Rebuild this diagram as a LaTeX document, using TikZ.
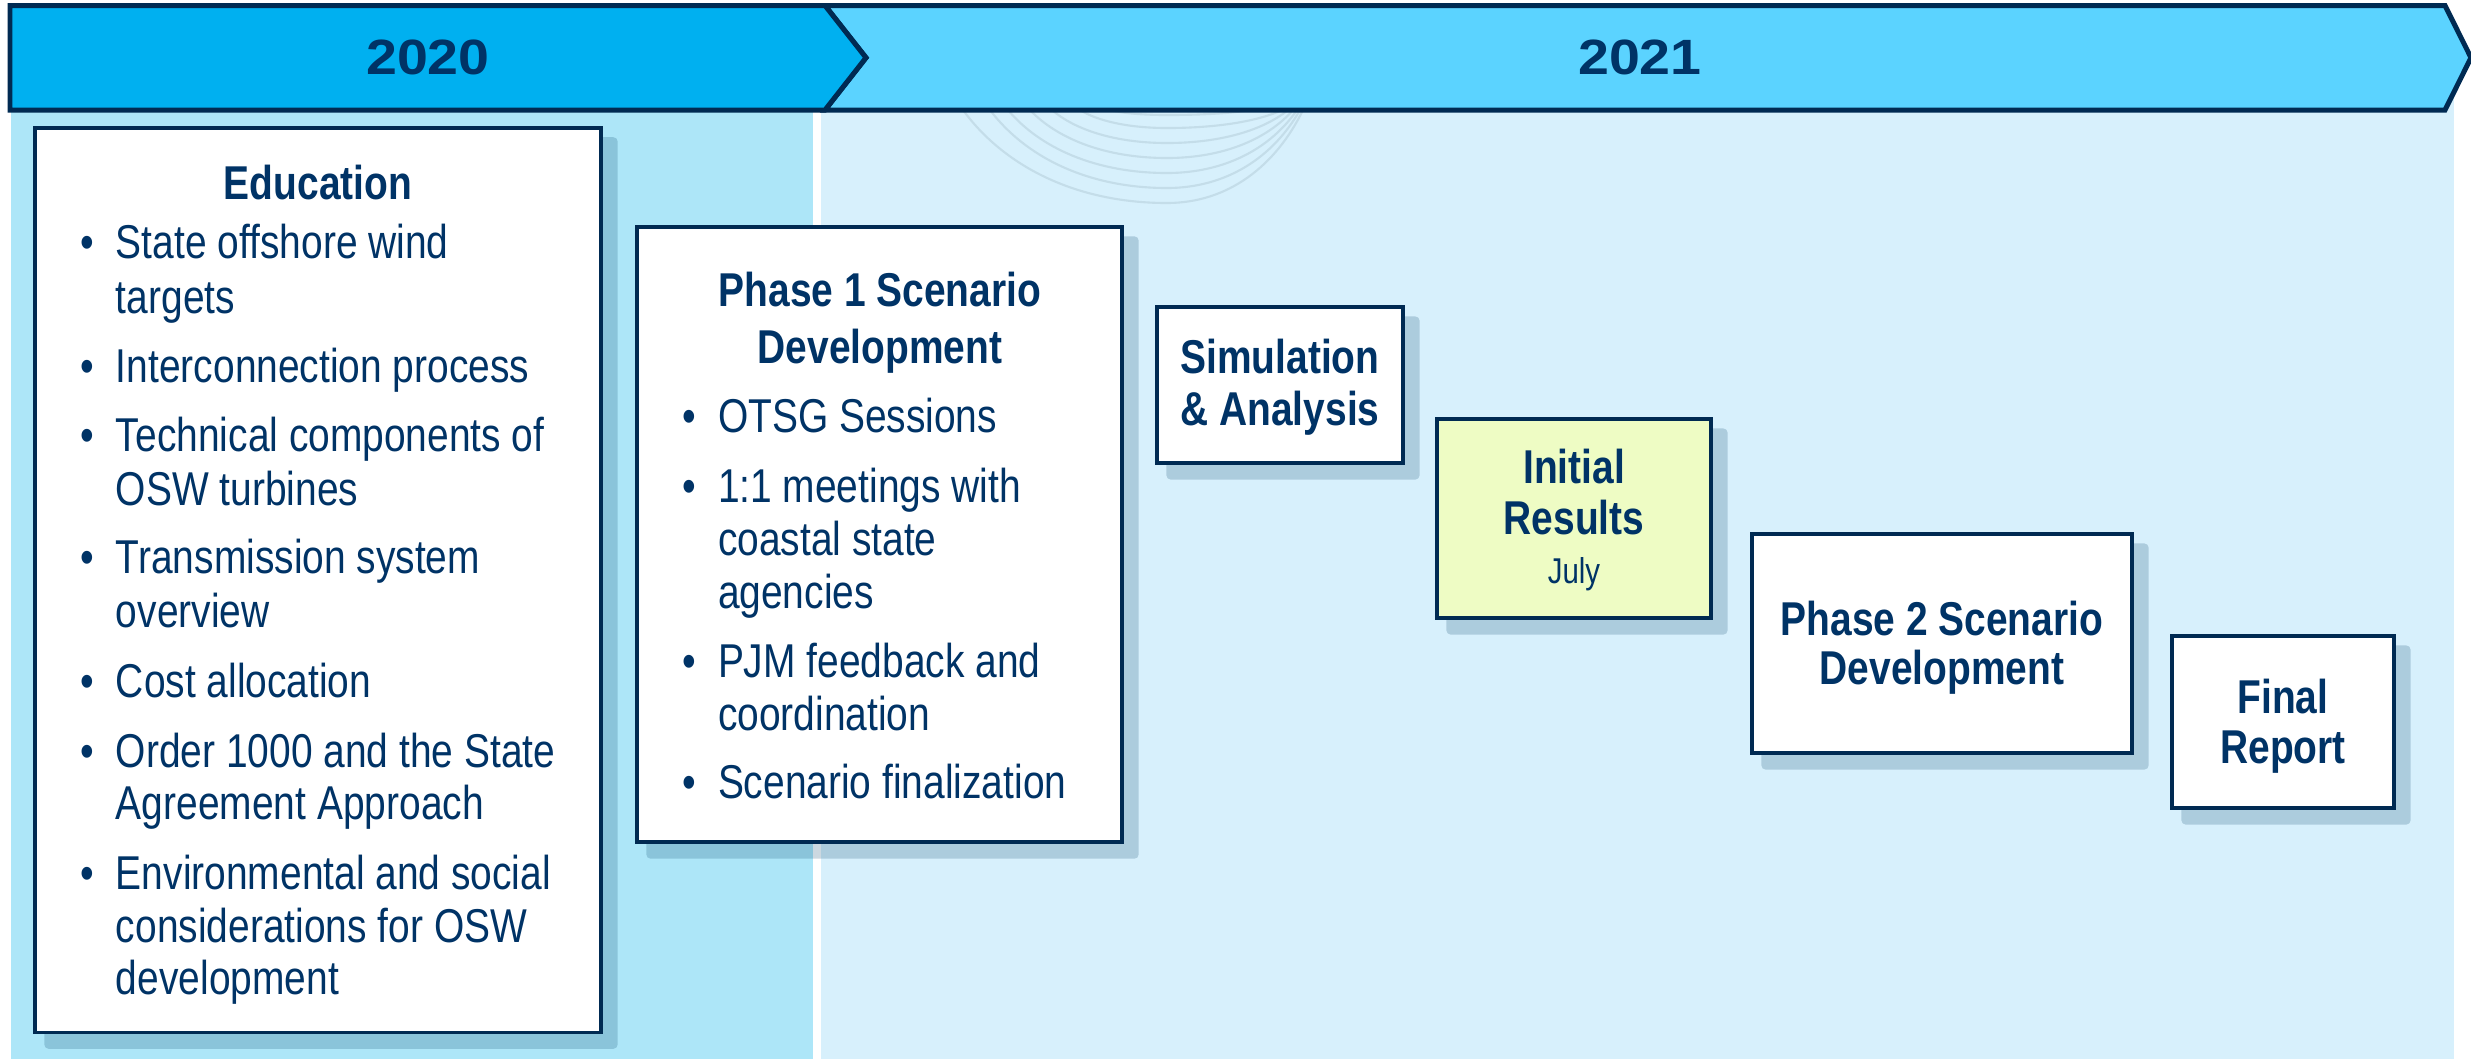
\documentclass[tikz,border=0pt]{standalone}
\usepackage{fontspec}
\setmainfont{Liberation Sans}[FakeStretch=0.82]
\newfontfamily\hdrfont{Liberation Sans}[FakeStretch=1.12]
\pgfdeclarelayer{bgl}
\pgfdeclarelayer{shl}
\pgfsetlayers{bgl,shl,main}
\definecolor{navy}{HTML}{003366}
\definecolor{edge}{HTML}{002A52}
\definecolor{bandA}{HTML}{00B0F0}
\definecolor{bandB}{HTML}{5BD3FF}
\definecolor{bgleft}{HTML}{ADE6F8}
\definecolor{bgright}{HTML}{D7F0FC}
\definecolor{yel}{HTML}{EEFCC4}
\definecolor{shcol}{RGB}{0,60,100}
\definecolor{arccol}{HTML}{C4DDE9}
\newcommand\bodyfont{\fontsize{13.5pt}{15pt}\selectfont}
\newcommand\smallfont{\fontsize{10.2pt}{12pt}\selectfont}
\newcommand\yearfont{\hdrfont\bfseries\fontsize{14.1pt}{16pt}\selectfont}
\tikzset{
  box/.style={draw=edge, line width=1pt, fill=white, inner sep=0pt},
  shad/.style={fill=shcol, fill opacity=0.2, rounded corners=1.2pt},
  txt/.style={inner sep=0pt, outer sep=0pt, text=navy, font=\bodyfont},
  ttl/.style={txt, font=\bodyfont\bfseries, anchor=base},
  itm/.style={txt, anchor=base west},
  bul/.style={txt, anchor=base},
  band/.style={draw=edge, line width=1.42pt, line join=miter},
  yr/.style={inner sep=0pt, text=navy, font=\yearfont},
}
\newcommand\dropshadow[1]{\begin{pgfonlayer}{shl}\fill[shad] ([shift={(11.25,11.25)}]#1.north west) rectangle ([shift={(14.75,14.75)}]#1.south east);\end{pgfonlayer}}
\begin{document}
\begin{tikzpicture}[x=0.01cm,y=-0.01cm]
\useasboundingbox (0,0) rectangle (2471,1059);
\begin{pgfonlayer}{bgl}
\fill[white] (0,0) rectangle (2471,1059);
\fill[bgleft] (11,60) rectangle (813,1059);
\fill[bgright] (821,60) rectangle (2454,1059);
\foreach \xs/\yb/\xe in {963/203/1303, 990/188/1300, 1008/173/1297, 1030/158/1293, 1052/143/1288, 1080/128/1282, 1110/115/1250}{
  \draw[arccol, line width=0.6pt]
    (\xs,110) .. controls ({\xs+0.2*(1167-\xs)},{110+0.6*(\yb-110)}) and ({1167-0.45*(1167-\xs)},\yb) .. (1167,\yb)
    .. controls ({1167+0.45*(\xe-1167)},\yb) and ({\xe-0.2*(\xe-1167)},{110+0.6*(\yb-110)}) .. (\xe,110);
}
\end{pgfonlayer}

% header bands
\draw[band, fill=bandB] (825,5.5) -- (2445,5.5) -- (2471,57.7) -- (2445,110) -- (825,110) -- (866,57.7) -- cycle;
\draw[band, fill=bandA] (10,5.5) -- (825,5.5) -- (866,57.7) -- (825,110) -- (10,110) -- cycle;
\node[yr] (y2020) at (428,57.7) {2020};
\node[yr] (y2021) at (1640,57.7) {2021};

% boxes
\node[box, minimum width=5.66cm, minimum height=9.04cm] (edu) at (318,580) {};
\node[box, minimum width=4.85cm, minimum height=6.15cm] (ph1) at (879.5,534.5) {};
\node[box, minimum width=2.46cm, minimum height=1.56cm] (sim) at (1280,385) {};
\node[box, fill=yel, minimum width=2.74cm, minimum height=1.99cm] (ini) at (1574,518.5) {};
\node[box, minimum width=3.80cm, minimum height=2.19cm] (ph2) at (1942,643.5) {};
\node[box, minimum width=2.22cm, minimum height=1.72cm] (fin) at (2283,722) {};
\dropshadow{edu}
\dropshadow{ph1}
\dropshadow{sim}
\dropshadow{ini}
\dropshadow{ph2}
\dropshadow{fin}

% Education
\node[ttl] (eduT) at (318,199) {Education};
\node[bul] (eb1) at (87,258) {•};
\node[itm] (e1a) at (116,258) {State offshore wind};
\node[itm] (e1b) at (116,313) {targets};
\node[bul] (eb2) at (87,382) {•};
\node[itm] (e2a) at (116,382) {Interconnection process};
\node[bul] (eb3) at (87,451) {•};
\node[itm] (e3a) at (116,451) {Technical components of};
\node[itm] (e3b) at (116,505) {OSW turbines};
\node[bul] (eb4) at (87,573) {•};
\node[itm] (e4a) at (116,573) {Transmission system};
\node[itm] (e4b) at (116,627) {overview};
\node[bul] (eb5) at (87,697) {•};
\node[itm] (e5a) at (116,697) {Cost allocation};
\node[bul] (eb6) at (87,767) {•};
\node[itm] (e6a) at (116,767) {Order 1000 and the State};
\node[itm] (e6b) at (116,819) {Agreement Approach};
\node[bul] (eb7) at (87,889) {•};
\node[itm] (e7a) at (116,889) {Environmental and social};
\node[itm] (e7b) at (116,942) {considerations for OSW};
\node[itm] (e7c) at (116,994) {development};

% Phase 1
\node[ttl] (p1Ta) at (880,306) {Phase 1 Scenario};
\node[ttl] (p1Tb) at (880,363) {Development};
\node[bul] (pb1) at (689,432) {•};
\node[itm] (p1a) at (718,432) {OTSG Sessions};
\node[bul] (pb2) at (689,502) {•};
\node[itm] (p2a) at (718,502) {1:1 meetings with};
\node[itm] (p2b) at (718,555) {coastal state};
\node[itm] (p2c) at (718,608) {agencies};
\node[bul] (pb3) at (689,677) {•};
\node[itm] (p3a) at (718,677) {PJM feedback and};
\node[itm] (p3b) at (718,730) {coordination};
\node[bul] (pb4) at (689,798) {•};
\node[itm] (p4a) at (718,798) {Scenario finalization};

% Simulation
\node[ttl] (simA) at (1280,373) {Simulation};
\node[ttl] (simB) at (1280,425) {\& Analysis};

% Initial results
\node[ttl] (iniA) at (1574,483) {Initial};
\node[ttl] (iniB) at (1574,534) {Results};
\node[txt, font=\smallfont, anchor=base] (iniC) at (1574,583) {July};

% Phase 2
\node[ttl] (p2Ta) at (1942,635) {Phase 2 Scenario};
\node[ttl] (p2Tb) at (1942,684) {Development};

% Final
\node[ttl] (finA) at (2283,713) {Final};
\node[ttl] (finB) at (2283,763) {Report};
\end{tikzpicture}
\end{document}
